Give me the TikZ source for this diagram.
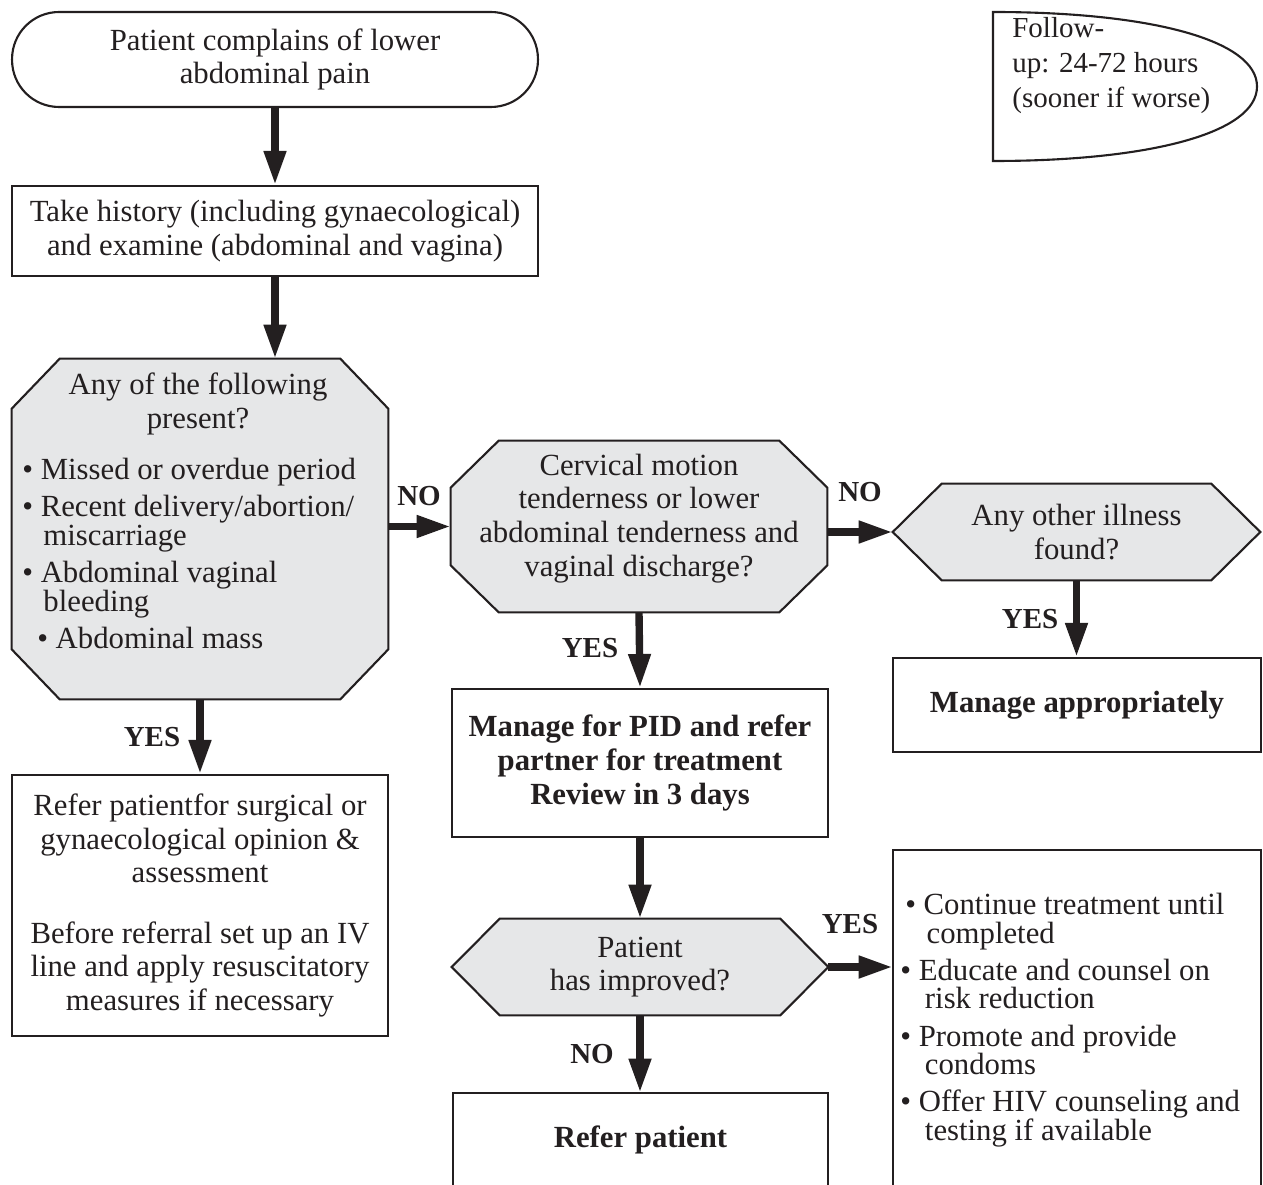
\documentclass[tikz,border=0pt]{standalone}
\usepackage{fontspec}
\setmainfont{Liberation Serif}
\usetikzlibrary{arrows.meta,calc,backgrounds}

\definecolor{ink}{HTML}{231F20}
\definecolor{qfill}{HTML}{E6E7E8}

\newcommand\txtfont{\fontsize{17.5}{19.2}\selectfont}
\newcommand\listfont{\fontsize{17.5}{16.2}\selectfont}

% octagon outline around a rectangular node: #1 node, #2 x-chamfer, #3 y-chamfer
\newcommand\octoutline[3]{%
  \draw[shp, fill=qfill]
    ($(#1.north west)+(#2,0)$) -- ($(#1.north east)+(-#2,0)$) --
    ($(#1.north east)+(0,#3)$) -- ($(#1.south east)+(0,-#3)$) --
    ($(#1.south east)+(-#2,0)$) -- ($(#1.south west)+(#2,0)$) --
    ($(#1.south west)+(0,-#3)$) -- ($(#1.north west)+(0,#3)$) -- cycle;}
% hexagon outline pointed left and right: #1 node, #2 x-offset of the top corners
\newcommand\hexoutline[2]{%
  \draw[shp, fill=qfill]
    (#1.west) -- ($(#1.north west)+(#2,0)$) -- ($(#1.north east)+(-#2,0)$) --
    (#1.east) -- ($(#1.south east)+(-#2,0)$) -- ($(#1.south west)+(#2,0)$) -- cycle;}

\tikzset{
  shp/.style={draw=ink, line width=1.2pt, line join=miter},
  box/.style={shp, rectangle, inner sep=0pt, align=center, font=\txtfont, text=ink},
  frame/.style={rectangle, inner sep=0pt, align=center, font=\txtfont, text=ink},
  txt/.style={inner sep=0pt, font=\txtfont, text=ink},
  lbl/.style={inner sep=0pt, font=\fontsize{16.5}{18}\selectfont\bfseries, text=ink},
  flow/.style={draw=ink, line width=4.2pt, -{Triangle[width=0.42cm,length=0.68cm]}},
}

\begin{document}
\begin{tikzpicture}[x=0.02cm, y=-0.02cm]
\useasboundingbox (0,0) rectangle (1263,1185);

% ---- main column ----
\node[box, rounded corners=0.94cm, minimum width=10.52cm, minimum height=1.9cm]
  (start) at (275,59.5) {Patient complains of lower\\abdominal pain};
\node[box, minimum width=10.52cm, minimum height=1.8cm]
  (hist) at (275,231) {Take history (including gynaecological)\\and examine (abdominal and vagina)};

% first decision (octagon)
\node[frame, minimum width=7.52cm, minimum height=6.8cm] (q1) at (200,529) {};
% second decision (octagon)
\node[frame, minimum width=7.52cm, minimum height=3.42cm] (q2) at (639,526.5) {};
% other illness (hexagon)
\node[frame, minimum width=7.34cm, minimum height=1.92cm] (h1) at (1076.5,532)
  {Any other illness\\found?};
% improvement check (hexagon)
\node[frame, minimum width=7.52cm, minimum height=1.92cm] (h2) at (640,967)
  {Patient\\has improved?};

\begin{pgfonlayer}{background}
  \octoutline{q1}{48}{50}
  \octoutline{q2}{48}{47}
  \hexoutline{h1}{49}
  \hexoutline{h2}{48}
\end{pgfonlayer}

\node[txt, align=center] (q1head) at (198,404) {Any of the following\\present?};
\node[txt, align=left, anchor=north west, font=\listfont] (q1list) at (22,458) {%
\textbullet\ Missed or overdue period\\[5pt]
\textbullet\ Recent delivery/abortion/\\
\hspace*{12pt}miscarriage\\[5pt]
\textbullet\ Abdominal vaginal\\
\hspace*{12pt}bleeding\\[5pt]
\hspace*{8.5pt}\textbullet\ Abdominal mass};

\node[txt, align=center] (q2text) at (639,518.5)
  {Cervical motion\\tenderness or lower\\abdominal tenderness and\\vaginal discharge?};

\node[box, minimum width=7.36cm, minimum height=1.88cm, font=\txtfont\bfseries]
  (manage) at (1077,705) {Manage appropriately};
\node[box, minimum width=7.52cm, minimum height=5.22cm]
  (refer1) at (200,905.5) {Refer patientfor surgical or\\gynaecological opinion \&\\assessment\\[15pt]
  Before referral set up an IV\\line and apply resuscitatory\\measures if necessary};
\node[box, minimum width=7.52cm, minimum height=2.96cm, font=\txtfont\bfseries]
  (pid) at (640,763) {Manage for PID and refer\\partner for treatment\\Review in 3 days};

% boxes running off the lower edge
\node[frame, minimum width=7.5cm, minimum height=1.88cm, font=\txtfont\bfseries]
  (referp) at (640.5,1140) {Refer patient};
\draw[shp] ($(referp.south west)+(0,12)$) -- (referp.north west) -- (referp.north east)
  -- ($(referp.south east)+(0,12)$);
\node[frame, minimum width=7.36cm, minimum height=6.74cm] (rbox) at (1077,1018.5) {};
\draw[shp] ($(rbox.south west)+(0,12)$) -- (rbox.north west) -- (rbox.north east)
  -- ($(rbox.south east)+(0,12)$);
\node[txt, align=left, anchor=north west, font=\listfont] (rlist) at (900,893) {%
\hspace*{2.8pt}\textbullet\ Continue treatment until\\
\hspace*{15pt}completed\\[5pt]
\textbullet\ Educate and counsel on\\
\hspace*{14pt}risk reduction\\[5pt]
\textbullet\ Promote and provide\\
\hspace*{14pt}condoms\\[5pt]
\textbullet\ Offer HIV counseling and\\
\hspace*{14pt}testing if available};

% follow-up note
\draw[shp] (993,12) .. controls (1150,12) and (1257,40) .. (1257,86.5)
  .. controls (1257,133) and (1150,161) .. (993,161) -- cycle;
\node[txt, align=left, anchor=north west, font=\fontsize{16.5}{19.8}\selectfont]
  (fup) at (1012,17) {Follow-\\up: 24-72 hours\\(sooner if worse)};

% ---- connectors ----
\draw[flow] (start.south) -- (hist.north);
\draw[flow] (hist.south) -- (hist.south |- q1.north);
\draw[flow] (q1.east |- q2.west) -- (q2.west);
\draw[flow] (q1.south) -- (refer1.north);
\draw[flow] (q2.east |- h1.west) -- (h1.west);
\draw[flow] (q2.south) -- (pid.north);
\draw[flow] (h1.south) -- (h1.south |- manage.north);
\draw[flow] (pid.south) -- (h2.north);
\draw[flow] (h2.east) -- (h2.east -| rbox.west);
\draw[flow] (h2.south) -- (h2.south |- referp.north);

% ---- branch labels ----
\node[lbl] (no1) at (419,496) {NO};
\node[lbl] (no2) at (860,492) {NO};
\node[lbl] (yes1) at (152,737) {YES};
\node[lbl] (yes2) at (590,648) {YES};
\node[lbl] (yes3) at (1030,619) {YES};
\node[lbl] (yes4) at (850,924) {YES};
\node[lbl] (no3) at (592,1054) {NO};
\end{tikzpicture}
\end{document}
